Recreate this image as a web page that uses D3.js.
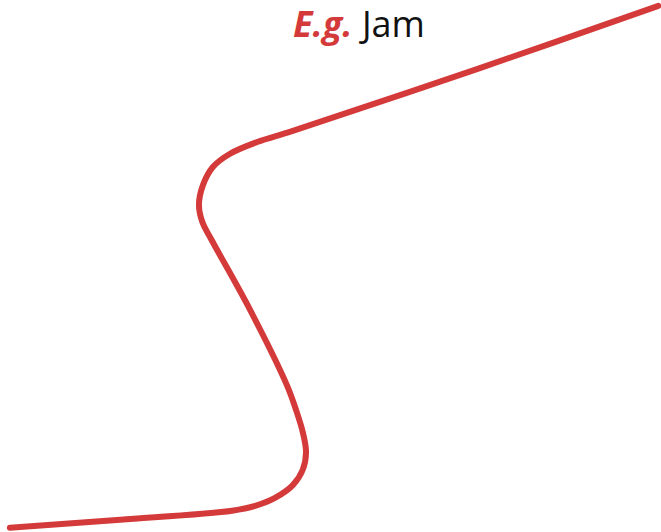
<!DOCTYPE html>
<html>
<head>
<meta charset="utf-8">
<script src="https://cdn.jsdelivr.net/npm/d3@7"></script>
<style>
  body { margin: 0; background: #fff; }
  svg { display: block; }
</style>
</head>
<body>
<div class="chart"></div>
<script>
    // curve, in 0..100 units both ways
    const quantity = [1.5, 18.2, 35.1, 38.6, 41.6, 44.3, 45.8, 46.3, 45.8, 44.8, 43.4, 37.6,
                      32.1, 30.6, 30.1, 30.7, 32.2, 34.8, 38.9, 44.3, 72.6, 99.6];
    const price    = [0.8, 2.3, 4.0, 4.9, 6.4, 8.8, 11.7, 15.0, 18.8, 22.9, 27.6, 42.3,
                      54.7, 58.3, 61.5, 65.2, 68.6, 71.1, 73.3, 75.4, 87.2, 98.9];

    const titleParts = ["E.g.", "Jam"];

    const width = 661;
    const height = 532;

    const svg = d3.select(".chart").append("svg")
    .attr("width", width)
    .attr("height", height);

    const x = d3.scaleLinear().domain([0, 100]).range([0, width]);
    const y = d3.scaleLinear().domain([0, 100]).range([height, 0]);

    const points = quantity.map((q, i) => [q, price[i]]);

    const line = d3.line()
    .x(d => x(d[0]))
    .y(d => y(d[1]))
    .curve(d3.curveCatmullRom.alpha(0.5));

    svg.append("path")
    .datum(points)
    .attr("d", line)
    .attr("fill", "none")
    .attr("stroke", "#d43a3a")
    .attr("stroke-width", 6)
    .attr("stroke-linecap", "round")
    .attr("stroke-linejoin", "round");

    const title = svg.append("text")
    .attr("x", 359)
    .attr("y", 37)
    .attr("text-anchor", "middle")
    .style("font-family", "'Open Sans', sans-serif")
    .style("font-size", "36px");

    title.append("tspan")
    .attr("fill", "#d43a3a")
    .attr("font-weight", "bold")
    .attr("font-style", "italic")
    .text(titleParts[0]);

    title.append("tspan")
    .attr("fill", "#111")
    .text(" " + titleParts[1]);
</script>
</body>
</html>
